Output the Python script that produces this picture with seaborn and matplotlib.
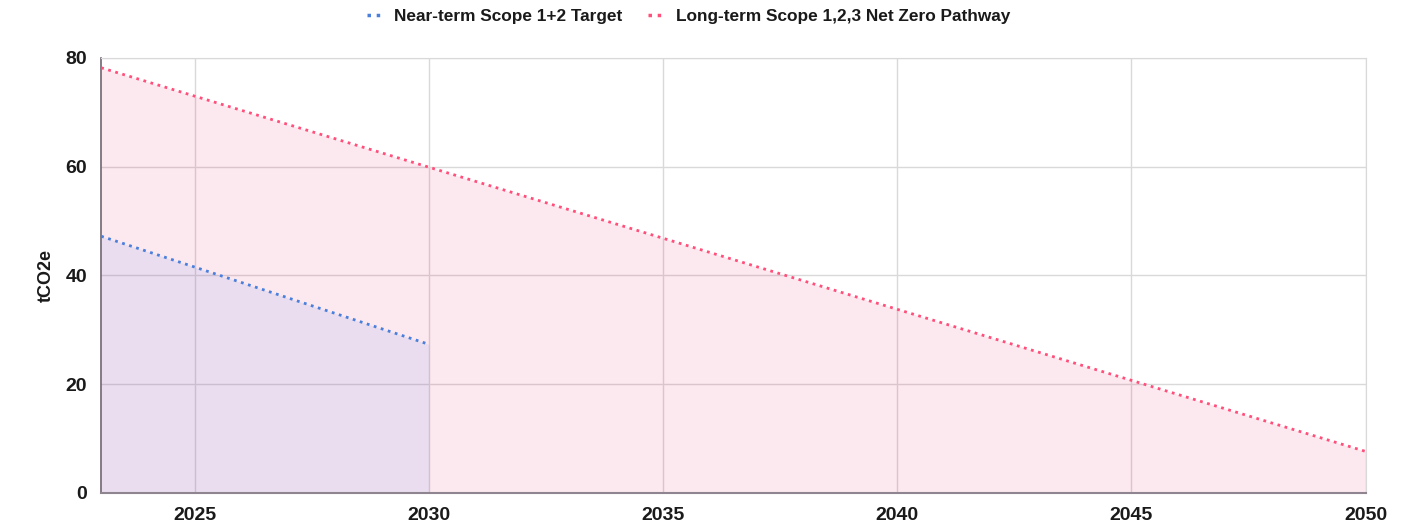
import matplotlib
matplotlib.use("Agg")
import matplotlib.pyplot as plt
import seaborn as sns
import pandas as pd

# data
near_years = [2023, 2030]
near_vals = [47.2, 27.3]
long_years = [2023, 2050]
long_vals = [78.2, 7.6]
near_label = "Near-term Scope 1+2 Target"
long_label = "Long-term Scope 1,2,3 Net Zero Pathway"
x_ticks = [2025, 2030, 2035, 2040, 2045, 2050]
y_ticks = [0, 20, 40, 60, 80]

sns.set_style("white")
plt.rcParams['font.family'] = ['Liberation Sans', 'DejaVu Sans']
plt.rcParams['text.color'] = '#1a1a1a'

near_color = '#4a7fdc'
long_color = '#ff4f7b'

df = pd.concat([
    pd.DataFrame({'year': near_years, 'value': near_vals, 'series': near_label}),
    pd.DataFrame({'year': long_years, 'value': long_vals, 'series': long_label}),
])

fig, ax = plt.subplots(figsize=(14.05, 5.27), dpi=100)

# filled areas under each line
ax.fill_between(long_years, long_vals, 0, color='#e91e63', alpha=0.1, linewidth=0, zorder=1)
ax.fill_between(near_years, near_vals, 0, color='#4285f4', alpha=0.1, linewidth=0, zorder=1)

sns.lineplot(data=df, x='year', y='value', hue='series',
             palette={near_label: near_color, long_label: long_color},
             linestyle=':', linewidth=2, ax=ax, zorder=3, legend=True)

ax.set_xlim(2023, 2050)
ax.set_ylim(0, 80)
ax.set_xticks(x_ticks)
ax.set_yticks(y_ticks)
ax.grid(True, color='#d9d9d9', linewidth=1, zorder=0)
ax.set_axisbelow(True)

for lbl in ax.get_xticklabels() + ax.get_yticklabels():
    lbl.set_fontweight('bold')
    lbl.set_fontsize(14)
    lbl.set_color('#1a1a1a')
ax.tick_params(axis='both', length=0, pad=10)

ax.set_xlabel('')
ax.set_ylabel('tCO2e', fontsize=13, fontweight='bold', labelpad=8, color='#1a1a1a')

for s in ['top', 'right']:
    ax.spines[s].set_color('#d9d9d9')
ax.spines['left'].set_color('#6e6670')
ax.spines['bottom'].set_color('#8f8590')
ax.spines['left'].set_linewidth(1.2)
ax.spines['bottom'].set_linewidth(1.5)

handles, labels = ax.get_legend_handles_labels()
ax.get_legend().remove()
leg = fig.legend(handles, labels, loc='upper center', bbox_to_anchor=(0.49, 1.013), ncol=2,
                 frameon=False, handlelength=1.0, handletextpad=0.6, columnspacing=1.5,
                 prop={'weight': 'bold', 'size': 12.4})
for line in leg.get_lines():
    line.set_linewidth(2.5)

fig.subplots_adjust(left=0.072, right=0.972, top=0.89, bottom=0.065)
fig.savefig('out.png', dpi=100)
